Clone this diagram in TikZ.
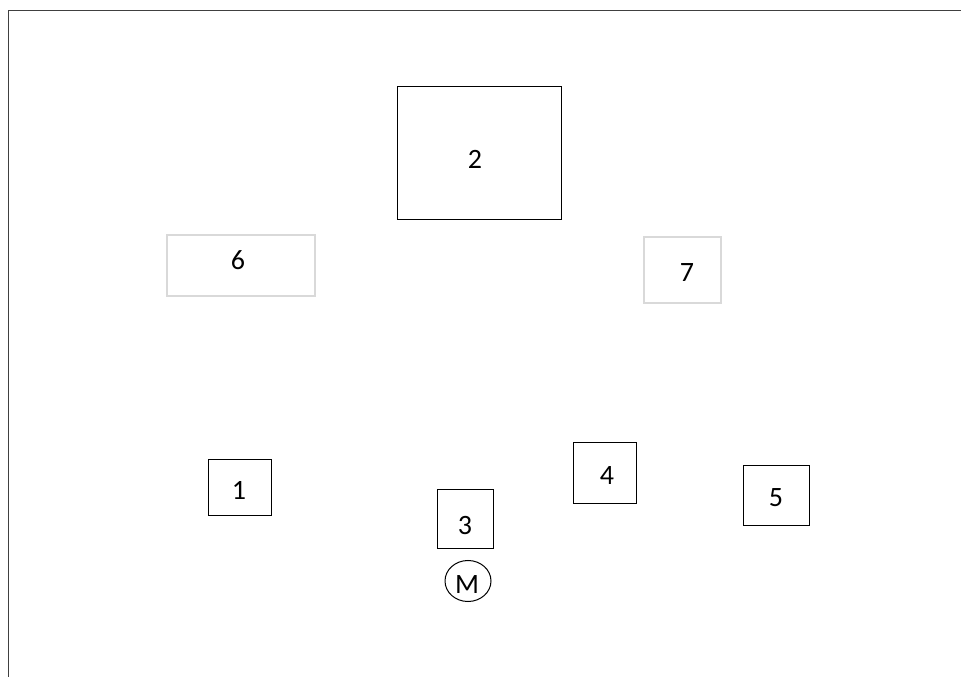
\documentclass[tikz,border=0pt]{standalone}
\usepackage{fontspec}
\setmainfont{Carlito}
\begin{document}
\begin{tikzpicture}[x=0.75pt,y=-0.75pt,
  box/.style={draw=black,line width=0.75pt},
  lightbox/.style={draw=black!15,line width=0.9pt},
  lbl/.style={font=\fontsize{21}{25}\selectfont,inner sep=0pt}]
\useasboundingbox (0,0) rectangle (961,677);
\draw[line width=1.3pt,draw=black!75] (8.5,677) coordinate (fb) -- (8.5,10.5) coordinate (fc) -- (961,10.5) coordinate (fr);
% boxes
\draw[box] (397,87) rectangle (561,220) coordinate (b2);
\node[lbl] (t2) at (475,159) {2};
\draw[lightbox] (167,235) rectangle (315,296) coordinate (b6);
\node[lbl] (t6) at (238,260) {6};
\draw[lightbox] (644,237) rectangle (721,303) coordinate (b7);
\node[lbl] (t7) at (687,273) {7};
\draw[box] (208,459) rectangle (271,515) coordinate (b1);
\node[lbl] (t1) at (239,490) {1};
\draw[box] (437,489) rectangle (493,548) coordinate (b3);
\node[lbl] (t3) at (465,526) {3};
\draw[box] (573,442) rectangle (636,503) coordinate (b4);
\node[lbl] (t4) at (607,476) {4};
\draw[box] (743,465) rectangle (809,525) coordinate (b5);
\node[lbl] (t5) at (776,498) {5};
\draw[box] (468,581) ellipse [x radius=23, y radius=20.5];
\node[lbl] (tm) at (467,585) {M};
\end{tikzpicture}
\end{document}
